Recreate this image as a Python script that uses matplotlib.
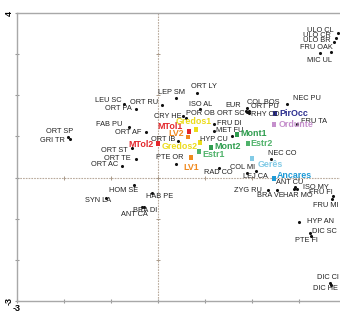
import numpy as np
import matplotlib.pyplot as plt

# species scores (black dots)
species = ["ULO CL", "ULO CR", "ULO BR", "FRU OAK", "MIC UL", "NEC PU", "COL BOS",
           "EUR", "ORT PU", "ORT SC", "RHY CO", "FRU TA", "FRU DI", "MET FU",
           "HYP CU", "ORT LY", "LEP SM", "ORT RU", "LEU SC", "ORT PA", "ISO AL",
           "CRY HE", "POR OB", "FAB PU", "ORT AF", "ORT IB", "ORT ST", "ORT TE",
           "ORT AC", "ORT SP", "GRI TR", "PTE OR", "RAD CO", "NEC CO", "COL MI",
           "LEJ CA", "ANT CU", "ISO MY", "ZYG RU", "BRA VE", "HAR MO", "FRU FI",
           "FRU MI", "HYP AN", "DIC SC", "PTE FI", "DIC CI", "DIC HE", "SYN LA",
           "HOM SE", "HAB PE", "BRA DI", "ANT CA"]
species_x = [3.83, 3.79, 3.74, 3.68, 3.45, 2.74, 1.89,
             1.87, 1.94, 1.89, 1.94, 2.96, 1.19, 1.19,
             1.57, 0.83, 0.38, 0.09, -0.72, -0.47, 0.89,
             0.53, 0.60, -0.62, -0.26, 0.43, -0.55, -0.47,
             -0.77, -1.91, -1.87, 0.38, 1.30, 2.40, 2.09,
             1.89, 2.91, 2.96, 2.34, 2.53, 2.89, 3.72,
             3.70, 3.00, 3.23, 3.26, 3.66, 3.68, -1.11,
             -0.51, -0.13, -0.34, -0.30]
species_y = [3.51, 3.39, 3.29, 3.05, 3.02, 1.80, 1.68,
             1.63, 1.63, 1.59, 1.56, 1.29, 1.29, 1.12,
             1.00, 2.05, 1.93, 1.76, 1.80, 1.66, 1.66,
             1.49, 1.46, 1.24, 1.10, 0.90, 0.73, 0.44,
             0.29, 0.98, 0.93, 0.34, 0.24, 0.44, 0.15,
             0.12, -0.24, -0.27, -0.29, -0.29, -0.27, -0.46,
             -0.51, -1.07, -1.34, -1.41, -2.56, -2.61, -0.49,
             -0.17, -0.37, -0.71, -0.71]

# site scores (coloured squares)
sites = ["MTol1", "MTol2", "LV2", "LV1", "Gredos1", "Gredos2", "Mont1", "Mont2",
         "Estr1", "Estr2", "PirOcc", "Ordunte", "Gerês", "Ancares"]
site_x = [0.66, 0.00, 0.64, 0.70, 0.81, 0.89, 1.68, 1.13,
          0.87, 1.91, 2.49, 2.47, 2.00, 2.47]
site_y = [1.12, 0.83, 0.98, 0.49, 1.17, 0.85, 1.05, 0.73,
          0.63, 0.83, 1.56, 1.29, 0.46, -0.02]

# label placement: (ha, dx, dy) in pixels
species_place = [("right", -4, 3), ("right", -5, 3), ("right", -3, 2), ("right", 2, 5),
                 ("center", -1, -7), ("left", 6, 5), ("left", 0, 6),
                 ("right", -5, 5), ("left", 2, 4), ("right", -2, -1), ("left", 2, -1),
                 ("left", 4, 3), ("left", 3, 1), ("left", 2, 1),
                 ("right", -4, -3), ("left", -6, 7), ("center", -4, 6), ("right", -4, 3),
                 ("right", -3, 3), ("right", -4, 1), ("center", 1, 5),
                 ("right", -1, 0), ("left", 0, 4), ("right", -6, 2), ("right", -4, 0),
                 ("right", -3, 1), ("right", -4, -3), ("right", -5, 1),
                 ("right", -4, 1), ("right", 5, 6), ("right", -5, -1), ("center", -6, 6),
                 ("center", -1, -5), ("left", -3, 6), ("right", -1, 4),
                 ("left", -4, -4), ("center", -5, 5), ("left", 6, 1), ("right", -6, -1),
                 ("center", -7, -6), ("center", 4, -7), ("left", -24, 4),
                 ("center", -6, -7), ("left", 8, 0), ("left", 2, 1), ("center", -5, -5),
                 ("center", -2, 5), ("center", -6, -4), ("center", -8, -3),
                 ("center", -10, -6), ("left", -6, -4), ("center", 3, -4), ("center", -10, -8)]
site_place = [("right", -6, 5), ("right", -4, -1), ("right", -4, 4), ("center", 0, -10),
              ("center", -2, 8), ("right", -2, -4), ("left", 3, 1), ("left", 3, 1),
              ("left", 3, -3), ("left", 3, 0), ("left", 4, 0), ("left", 5, 0),
              ("left", 6, -6), ("left", 3, 3)]
site_colors = ["#e3262b", "#e3262b", "#f0891e", "#f0891e", "#ecdc1c", "#ecdc1c",
               "#2e9d4e", "#2e9d4e", "#4fb26a", "#4fb26a", "#2b2e8f", "#c58fcc",
               "#82cbe6", "#1e9ad6"]

plt.rcParams['font.family'] = ['Liberation Sans', 'DejaVu Sans']

fig = plt.figure(figsize=(3.4, 3.21), dpi=100)
ax = fig.add_axes([17 / 340, 20 / 321, 329 / 340, 288 / 321])
ax.set_xlim(-3, 4)
ax.set_ylim(-3, 4)

ticks = np.arange(-3, 5)

# zero lines with their small cross ticks
ax.axhline(0, color="#b9aa9c", lw=0.8, ls=(0, (1.5, 1)), zorder=1)
ax.axvline(0, color="#b9aa9c", lw=0.8, ls=(0, (1.5, 1)), zorder=1)
ax.plot(ticks, np.zeros_like(ticks), ls="none", marker="|", ms=3, mew=0.7,
        color="#a89888", zorder=1)
ax.plot(np.zeros_like(ticks), ticks, ls="none", marker="_", ms=3, mew=0.7,
        color="#a89888", zorder=1)

ax.scatter(species_x, species_y, s=5, c="#111111", marker="o", zorder=3, linewidths=0)
ax.scatter(site_x, site_y, s=10, c=site_colors, marker="s", zorder=3, linewidths=0)

for name, x, y, (ha, dx, dy) in zip(species, species_x, species_y, species_place):
    ax.annotate(name, (x, y), xytext=(dx, dy), textcoords="offset pixels",
                ha=ha, va="center", fontsize=5.3, color="#222222", zorder=4)

for name, x, y, (ha, dx, dy), col in zip(sites, site_x, site_y, site_place, site_colors):
    ax.annotate(name, (x, y), xytext=(dx, dy), textcoords="offset pixels",
                ha=ha, va="center", fontsize=6.4, fontweight="bold", color=col, zorder=5)

ax.set_xticks(ticks)
ax.set_yticks(ticks)
ax.set_xticklabels(["-3"] + [""] * 7)
ax.set_yticklabels(["-3"] + [""] * 6 + ["4"], rotation=90, va="center")
ax.tick_params(direction="inout", length=3, width=0.8, color="#999999",
               labelsize=6.5, pad=1)
for lab in ax.get_xticklabels() + ax.get_yticklabels():
    lab.set_fontweight("bold")

for side in ["left", "top", "bottom"]:
    ax.spines[side].set_color("#a8a8a8")
    ax.spines[side].set_linewidth(1.0)
ax.spines["right"].set_visible(False)

fig.savefig("out.png", dpi=100)
